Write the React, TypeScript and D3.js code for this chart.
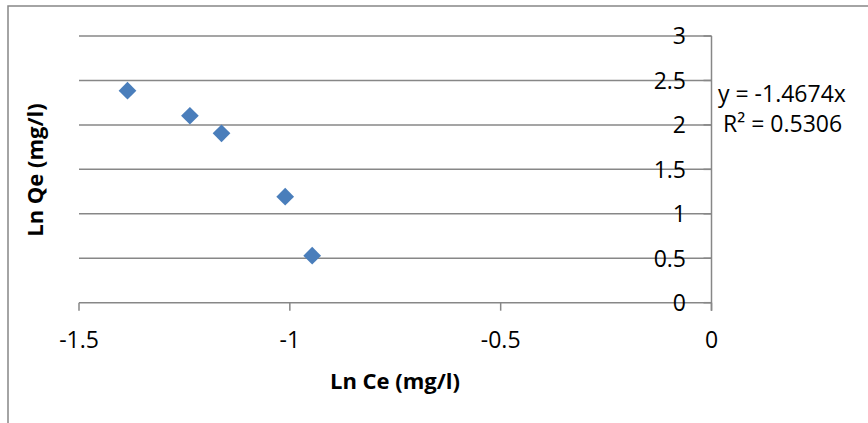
import React from "react";
import * as d3 from "d3";

const lnCe: number[] = [-1.385, -1.237, -1.162, -1.011, -0.947];
const lnQe: number[] = [2.385, 2.103, 1.905, 1.192, 0.529];
const xTicks: number[] = [-1.5, -1, -0.5, 0];
const yTicks: number[] = [0, 0.5, 1, 1.5, 2, 2.5, 3];
const xTitle = "Ln Ce (mg/l)";
const yTitle = "Ln Qe (mg/l)";
const eqLine1 = "y = -1.4674x";
const eqLine2 = "R² = 0.5306";

const W = 868;
const H = 423;
const FONT = "'Open Sans', sans-serif";
const GRID = "#878787";

export default function App() {
  const x = d3.scaleLinear().domain([-1.5, 0]).range([79, 711.5]);
  const y = d3.scaleLinear().domain([0, 3]).range([302.7, 36]);
  const fmt = (v: number) => String(v);
  const diamond = d3.symbol().type(d3.symbolDiamond2).size(200);

  return (
    <svg
      width={W}
      height={H}
      style={{ position: "absolute", left: 0, top: 0, background: "#fff" }}
      fontFamily={FONT}
    >
      <rect x={8} y={6} width={W + 20} height={H + 20} fill="#fff" stroke={GRID} strokeWidth={1.5} />
      {yTicks.map((t) => (
        <line key={"g" + t} x1={x(-1.5)} x2={x(0)} y1={y(t)} y2={y(t)} stroke={GRID} strokeWidth={1.5} />
      ))}
      {/* y axis at x=0 */}
      <line x1={x(0)} x2={x(0)} y1={y(3)} y2={y(0) + 8} stroke={GRID} strokeWidth={1.5} />
      {yTicks.map((t) => (
        <line key={"yt" + t} x1={x(0) - 8} x2={x(0)} y1={y(t)} y2={y(t)} stroke={GRID} strokeWidth={1.5} />
      ))}
      {/* x axis ticks */}
      {xTicks.map((t) => (
        <line key={"xt" + t} x1={x(t)} x2={x(t)} y1={y(0)} y2={y(0) + 8} stroke={GRID} strokeWidth={1.5} />
      ))}
      {yTicks.map((t) => (
        <text key={"yl" + t} x={686} y={y(t)} dy="0.36em" textAnchor="end" fontSize={23} fill="#000">
          {fmt(t)}
        </text>
      ))}
      {xTicks.map((t) => (
        <text key={"xl" + t} x={x(t)} y={348} textAnchor="middle" fontSize={23} fill="#000">
          {fmt(t)}
        </text>
      ))}
      {lnCe.map((v, i) => (
        <path
          key={"p" + i}
          d={diamond() as string}
          transform={`translate(${x(v)},${y(lnQe[i])})`}
          fill="#4a7ebb"
        />
      ))}
      <text x={718} y={102} fontSize={23} fill="#000">{eqLine1}</text>
      <text x={723} y={132} fontSize={23} fill="#000">{eqLine2}</text>
      <text x={395} y={389} textAnchor="middle" fontSize={22} fontWeight="bold" fill="#000">
        {xTitle}
      </text>
      <text
        transform={`translate(43,170) rotate(-90)`}
        textAnchor="middle"
        fontSize={22}
        fontWeight="bold"
        fill="#000"
      >
        {yTitle}
      </text>
    </svg>
  );
}
